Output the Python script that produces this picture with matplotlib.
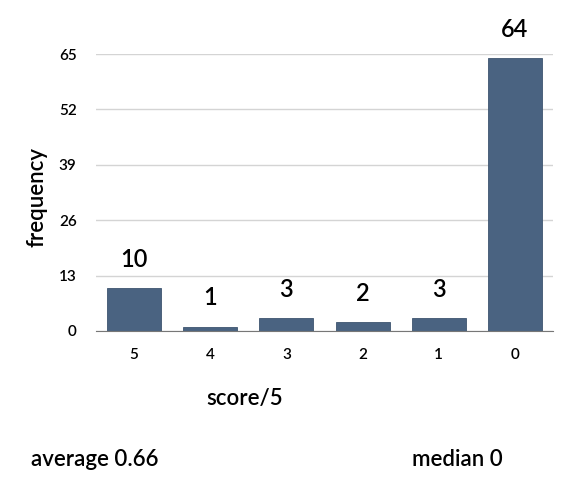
import matplotlib.pyplot as plt
import numpy as np

scores = ['5', '4', '3', '2', '1', '0']
freq = [10, 1, 3, 2, 3, 64]
yticks = [0, 13, 26, 39, 52, 65]

plt.rcParams['font.family'] = ['Lato', 'DejaVu Sans']
plt.rcParams['font.weight'] = 'semibold'

fig = plt.figure(figsize=(5.69, 4.83), dpi=100)
ax = fig.add_axes([96 / 569, 1 - 331 / 483, 457 / 569, 277 / 483])

x = np.arange(len(scores))
ax.bar(x, freq, width=0.71, color='#4a6381', edgecolor='#3e5570', linewidth=0.6, zorder=3)

# value labels above the bars
for xi, v in zip(x, freq):
    ax.annotate(str(v), (xi, v), xytext=(0, 21), textcoords='offset points',
                ha='center', va='center', fontsize=17, clip_on=False)

ax.set_xlim(-0.5, len(scores) - 0.5)
ax.set_ylim(0, 65)
ax.set_xticks(x)
ax.set_xticklabels(scores, fontsize=11)
ax.set_yticks(yticks)
ax.set_yticklabels([str(t) for t in yticks], fontsize=11)
ax.tick_params(length=0, pad=14)
ax.tick_params(axis='x', pad=12)
ax.grid(axis='y', color='#d4d4d4', linewidth=1, zorder=0)
for s in ['top', 'right', 'left']:
    ax.spines[s].set_visible(False)
ax.spines['bottom'].set_color('#777777')
ax.spines['bottom'].set_zorder(4)

fig.text(37 / 569, 1 - 197 / 483, 'frequency', rotation=90, ha='center', va='center', fontsize=16)
fig.text(245 / 569, 1 - 399 / 483, 'score/5', ha='center', va='center', fontsize=16)
fig.text(31 / 569, 1 - 459 / 483, 'average 0.66', ha='left', va='center', fontsize=16)
fig.text(503 / 569, 1 - 459 / 483, 'median 0', ha='right', va='center', fontsize=16)

fig.savefig('out.png', dpi=100)
